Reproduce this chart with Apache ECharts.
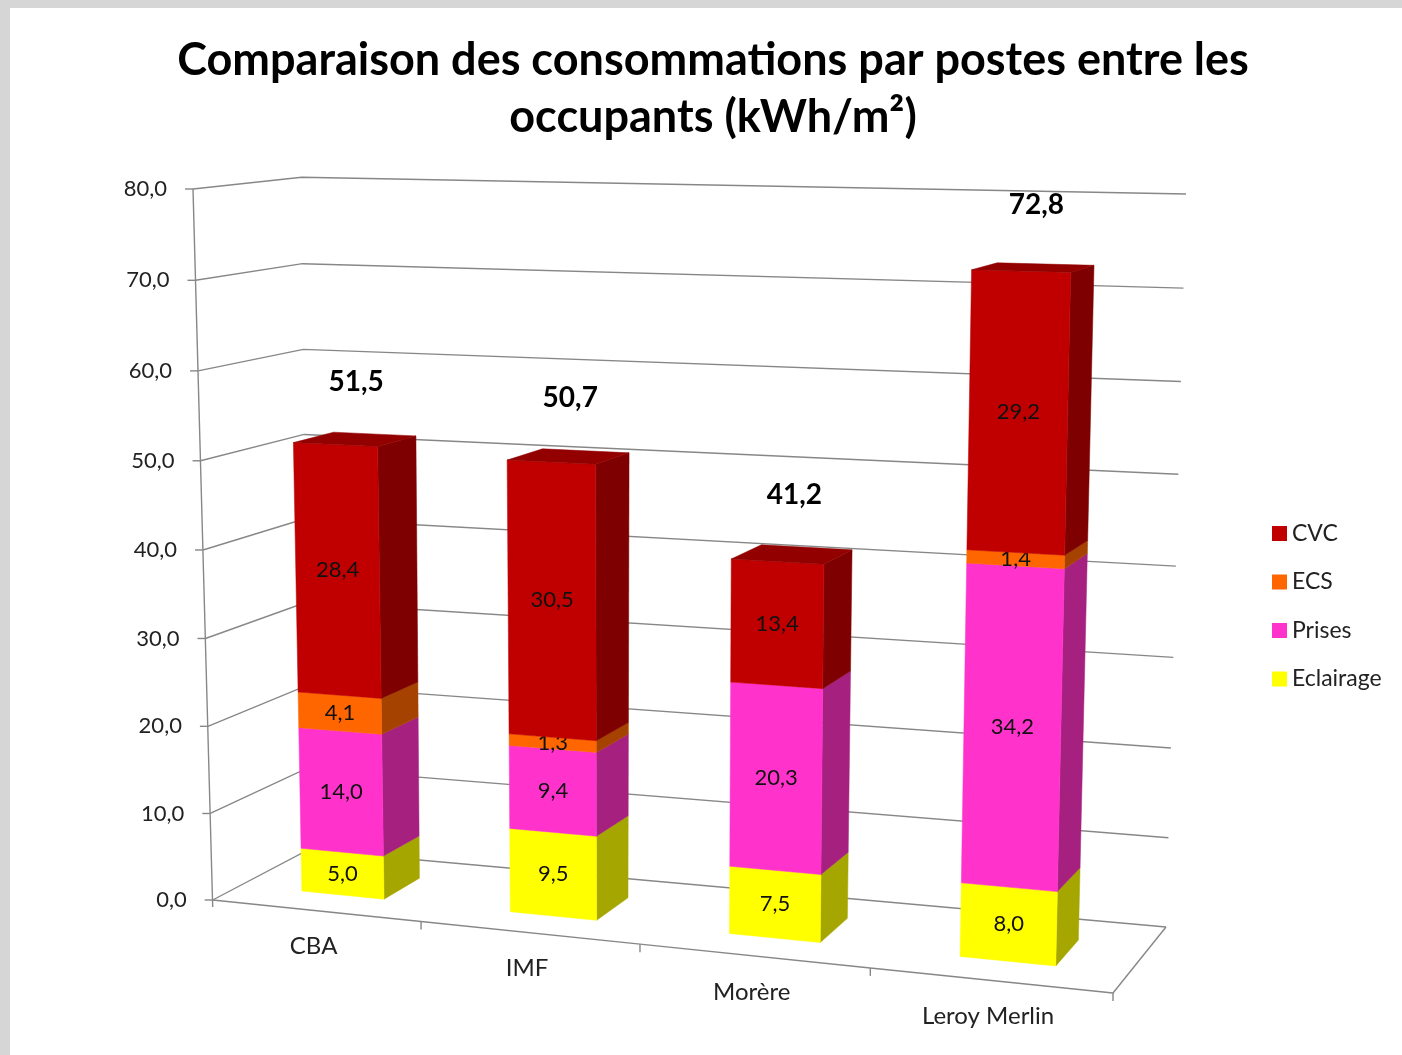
<!DOCTYPE html>
<html><head><meta charset="utf-8">
<script src="https://cdn.jsdelivr.net/npm/echarts@6/dist/echarts.min.js"></script>
<style>html,body{margin:0;padding:0;background:#fff}#c{width:1402px;height:1055px}</style>
</head><body><div id="c"></div>
<script>
// ---- data ----
const categories = ['CBA', 'IMF', 'Morère', 'Leroy Merlin'];
const eclairage = [5.0, 9.5, 7.5, 8.0];
const prises = [14.0, 9.4, 20.3, 34.2];
const ecs = [4.1, 1.3, 0, 1.4];
const cvc = [28.4, 30.5, 13.4, 29.2];
const totals = [51.5, 50.7, 41.2, 72.8];
const yTicks = [0, 10, 20, 30, 40, 50, 60, 70, 80];
const seriesNames = ['Eclairage', 'Prises', 'ECS', 'CVC'];
const seriesValues = [eclairage, prises, ecs, cvc];

// ---- styles ----
const faceColors = {
  'Eclairage': { front: '#FFFF00', side: '#A6A600', top: '#CCCC00' },
  'Prises': { front: '#FF33CC', side: '#A6207F', top: '#CC29A3' },
  'ECS': { front: '#FF6600', side: '#A64200', top: '#CC5200' },
  'CVC': { front: '#C00000', side: '#7F0000', top: '#930000' }
};
const FONT = 'Lato, "Open Sans", sans-serif';
const GRID_COLOR = '#878787';
const TOTAL_LABEL_GAP = 6.5; // in value units above the bar

// ---- 3-D box layout (u: categories 0..1, v: value 0..1, w: depth 0..1), corner keys are u v w ----
const BOX = {
  '000': [212.7, 900], '010': [193, 189], '001': [308, 850], '011': [301.7, 177.3],
  '100': [1113, 993], '110': [1132, 207], '101': [1166, 927], '111': [1186, 194]
};
const U_PERSP = -0.0967, V_PERSP = -0.0303;
const remap = (t, b) => (1 + b) * t / (1 + b * t);
function proj(u, v, w) {
  u = remap(u, U_PERSP); v = remap(v, V_PERSP);
  let x = 0, y = 0;
  for (let i = 0; i < 2; i++) for (let j = 0; j < 2; j++) for (let k = 0; k < 2; k++) {
    const wt = (i ? u : 1 - u) * (j ? v : 1 - v) * (k ? w : 1 - w);
    const c = BOX['' + i + j + k];
    x += wt * c[0]; y += wt * c[1];
  }
  return [x, y];
}
// map a data point (category slot x, value) at depth w through the chart's own axes, then into the box
function mapper(params, api) {
  const cs = params.coordSys;
  return (x, val, w) => {
    const p = api.coord([x, val]);
    return proj((p[0] - cs.x) / cs.width, (cs.y + cs.height - p[1]) / cs.height, w);
  };
}
const fmt = v => v.toFixed(1).replace('.', ',');

// ---- series ----
const barSeries = seriesNames.map((name, si) => {
  const vals = seriesValues[si];
  const data = vals.map((v, ci) => {
    let base = 0;
    for (let k = 0; k < si; k++) base += seriesValues[k][ci];
    let isTop = 1;
    for (let k = si + 1; k < seriesValues.length; k++) if (seriesValues[k][ci] > 0) isTop = 0;
    return [ci, v, base, isTop];
  });
  const col = faceColors[name];
  return {
    type: 'custom', name, coordinateSystem: 'cartesian2d', clip: false, z: 5 + si,
    itemStyle: { color: col.front },
    data,
    renderItem(params, api) {
      const i = api.value(0), val = api.value(1), base = api.value(2), isTop = api.value(3);
      if (!(val > 0)) return null;
      const P = mapper(params, api);
      const x0 = i + 0.3, x1 = i + 0.7, w0 = 0.3, w1 = 0.7, v0 = base, v1 = base + val;
      const front = [P(x0, v0, w0), P(x1, v0, w0), P(x1, v1, w0), P(x0, v1, w0)];
      const side = [P(x1, v0, w0), P(x1, v0, w1), P(x1, v1, w1), P(x1, v1, w0)];
      const top = [P(x0, v1, w0), P(x1, v1, w0), P(x1, v1, w1), P(x0, v1, w1)];
      const cx = (front[0][0] + front[1][0] + front[2][0] + front[3][0]) / 4;
      const cy = (front[0][1] + front[1][1] + front[2][1] + front[3][1]) / 4;
      const children = [
        { type: 'polygon', shape: { points: side }, style: { fill: col.side, stroke: col.side, lineWidth: 0.5 } },
        { type: 'polygon', shape: { points: front }, style: { fill: col.front, stroke: col.front, lineWidth: 0.5 } }
      ];
      if (isTop) children.push({ type: 'polygon', shape: { points: top }, style: { fill: col.top, stroke: col.top, lineWidth: 0.5 } });
      children.push({ type: 'text', z2: 10, style: { text: fmt(val), x: cx, y: cy, textAlign: 'center', textVerticalAlign: 'middle', fontFamily: FONT, fontSize: 22, fill: '#111' } });
      return { type: 'group', children };
    }
  };
});

const gridSeries = {
  type: 'custom', name: '_grid', coordinateSystem: 'cartesian2d', clip: false, z: 1, silent: true,
  data: yTicks.map(t => [0, t]),
  renderItem(params, api) {
    const t = api.value(1);
    const P = mapper(params, api);
    const a = P(0, t, 0), b = P(0, t, 1), c = P(4, t, 1);
    return { type: 'group', children: [
      { type: 'polyline', shape: { points: [a, b, c] }, style: { stroke: GRID_COLOR, lineWidth: 1.4, fill: null } },
      { type: 'line', shape: { x1: a[0] - 8, y1: a[1], x2: a[0], y2: a[1] }, style: { stroke: GRID_COLOR, lineWidth: 1.4 } },
      { type: 'text', style: { text: fmt(t), x: a[0] - 26, y: a[1], textAlign: 'right', textVerticalAlign: 'middle', fontFamily: FONT, fontSize: 22, fill: '#222' } }
    ] };
  }
};

const frameSeries = {
  type: 'custom', name: '_frame', coordinateSystem: 'cartesian2d', clip: false, z: 2, silent: true,
  data: categories.map((c, i) => [i, 0]),
  renderItem(params, api) {
    const i = api.value(0);
    const P = mapper(params, api);
    const children = [];
    const a = P(i, 0, 0), b = P(i + 1, 0, 0);
    children.push({ type: 'line', shape: { x1: a[0], y1: a[1], x2: b[0], y2: b[1] }, style: { stroke: GRID_COLOR, lineWidth: 1.4 } });
    children.push({ type: 'line', shape: { x1: b[0], y1: b[1], x2: b[0], y2: b[1] + 8 }, style: { stroke: GRID_COLOR, lineWidth: 1.4 } });
    if (i === 0) {
      const top = P(0, 80, 0);
      children.push({ type: 'line', shape: { x1: a[0], y1: a[1] + 7, x2: top[0], y2: top[1] }, style: { stroke: GRID_COLOR, lineWidth: 1.4 } });
    }
    if (i === categories.length - 1) {
      const back = P(i + 1, 0, 1);
      children.push({ type: 'line', shape: { x1: b[0], y1: b[1], x2: back[0], y2: back[1] }, style: { stroke: GRID_COLOR, lineWidth: 1.4 } });
    }
    const m = P(i + 0.5, 0, 0);
    children.push({ type: 'text', style: { text: categories[i], x: m[0] - 2, y: m[1] + 36, textAlign: 'center', textVerticalAlign: 'middle', fontFamily: FONT, fontSize: 24, fill: '#222' } });
    return { type: 'group', children };
  }
};

const totalSeries = {
  type: 'custom', name: '_total', coordinateSystem: 'cartesian2d', clip: false, z: 20, silent: true,
  data: totals.map((t, i) => [i, t]),
  renderItem(params, api) {
    const i = api.value(0), t = api.value(1);
    const P = mapper(params, api);
    const p = P(i + 0.5, t + TOTAL_LABEL_GAP, 0.5);
    return { type: 'text', style: { text: fmt(t), x: p[0] + 2, y: p[1], textAlign: 'center', textVerticalAlign: 'middle', fontFamily: FONT, fontWeight: 'bold', fontSize: 28, fill: '#000' } };
  }
};

const chart = echarts.init(document.getElementById('c'), null, { renderer: 'canvas' });
chart.setOption({
  backgroundColor: '#ffffff',
  animation: false,
  graphic: [
    { type: 'rect', z: 0, shape: { x: 0, y: 0, width: 1402, height: 8 }, style: { fill: '#d6d6d6' } },
    { type: 'rect', z: 0, shape: { x: 0, y: 0, width: 10, height: 1055 }, style: { fill: '#d6d6d6' } },
    { type: 'text', z: 100, style: { text: 'Comparaison des consommations par postes entre les\noccupants (kWh/m²)', x: 713, y: 89, textAlign: 'center', textVerticalAlign: 'middle', fontFamily: FONT, fontWeight: 'bold', fontSize: 45, lineHeight: 57, fill: '#000' } }
  ],
  legend: {
    data: ['CVC', 'ECS', 'Prises', 'Eclairage'],
    orient: 'vertical', left: 1267, top: 517,
    itemWidth: 15, itemHeight: 15, itemGap: 25.5, icon: 'rect',
    textStyle: { fontFamily: FONT, fontSize: 23, lineHeight: 22, color: '#222' },
    selectedMode: false
  },
  grid: { left: 0, top: 0, width: 400, height: 400, show: false },
  xAxis: { type: 'value', min: 0, max: 4, interval: 1, show: false },
  yAxis: { type: 'value', min: 0, max: 80, interval: 10, show: false },
  series: [gridSeries, frameSeries].concat(barSeries).concat([totalSeries])
});
</script></body></html>
